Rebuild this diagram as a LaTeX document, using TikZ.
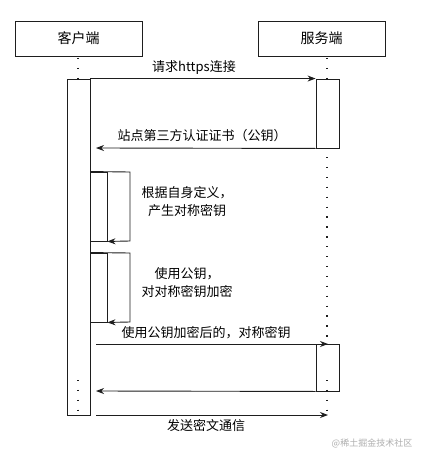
\documentclass[tikz,border=0pt]{standalone}
\usepackage{fontspec}
\setmainfont{Noto Sans CJK SC}
\usetikzlibrary{arrows.meta}
\definecolor{linegray}{RGB}{30,30,30}
\definecolor{wmgray}{RGB}{175,175,175}
\tikzset{
  head/.style={draw=linegray, line width=0.9pt, minimum width=127pt, minimum height=35pt, inner sep=0pt, font=\fontsize{14}{16}\selectfont},
  actbar/.style={draw=linegray, fill=white, line width=0.9pt, minimum width=23pt, inner sep=0pt},
  nestbar/.style={draw=linegray, fill=white, line width=0.9pt, minimum width=17pt, inner sep=0pt},
  lifeline/.style={draw=linegray, line width=1.3pt, dash pattern=on 1.3pt off 8.6pt},
  msg/.style={draw=linegray, line width=0.9pt, -{Stealth[length=8pt,width=6pt]}},
  lbl/.style={font=\fontsize{13}{15}\selectfont, inner sep=0pt},
  lbltwo/.style={font=\fontsize{13}{18}\selectfont, inner sep=0pt, align=center},
}
\begin{document}
\begin{tikzpicture}[x=1pt,y=-1pt]
\useasboundingbox[fill=white] (0,0) rectangle (424,460);
% headers
\node[head] (client) at (78.5,38.5) {客户端};
\node[head] (server) at (321.5,38.5) {服务端};
% lifelines
\coordinate (cl0) at (78,58);
\coordinate (cl1) at (78,79);
\coordinate (sl0) at (327,58);
\coordinate (sl1) at (327,79);
\coordinate (sl2) at (327,157);
\coordinate (sl3) at (327,340);
\draw[lifeline] (cl0) -- (cl1);
\draw[lifeline] (sl0) -- (sl1);
\draw[lifeline] (sl2) -- (sl3);
% activations
\node[actbar, minimum height=336pt] (ca) at (78.5,247) {};
\node[actbar, minimum height=69pt] (sa1) at (327.5,113.5) {};
\node[actbar, minimum height=47pt] (sa2) at (327.5,367.5) {};
\node[nestbar, minimum height=69pt] (n1) at (98.5,206.5) {};
\node[nestbar, minimum height=69pt] (n2) at (98.5,287.5) {};
% dots inside lower bars
\coordinate (cl2) at (78,380);
\coordinate (cl3) at (78,412);
\coordinate (sl4) at (327,380);
\coordinate (sl5) at (327,412);
\draw[lifeline] (cl2) -- (cl3);
\draw[lifeline] (sl4) -- (sl5);
% message 1
\draw[msg] (ca.north east) -- (sa1.north west);
\node[lbl] (m1) at (194,68) {请求https连接};
% message 2
\coordinate (m2e) at (96,148);
\draw[msg] (sa1.south west) -- (m2e);
\node[lbl] (m2) at (202,136) {站点第三方认证证书（公钥）};
% self message 1
\coordinate (s1a) at (130,172);
\coordinate (s1b) at (130,241);
\draw[msg] (ca.east |- n1.north) -- (s1a) -- (s1b) -- (n1.south east);
\node[lbltwo] (t1) at (187,202) {根据自身定义，\\产生对称密钥};
% self message 2
\coordinate (s2a) at (130,253);
\coordinate (s2b) at (130,322);
\draw[msg] (ca.east |- n2.north) -- (s2a) -- (s2b) -- (n2.south east);
\node[lbltwo] (t2) at (187,283) {使用公钥，\\对对称密钥加密};
% message 3
\coordinate (m3s) at (96,344);
\coordinate (m3e) at (328,344);
\draw[msg] (m3s) -- (m3e);
\node[lbl] (m3) at (206,333) {使用公钥加密后的，对称密钥};
% message 4
\coordinate (m4e) at (96,391);
\draw[msg] (sa2.south west) -- (m4e);
% message 5
\coordinate (m5s) at (96,415);
\coordinate (m5e) at (328,415);
\draw[msg] (m5s) -- (m5e);
\node[lbl] (m5) at (206,426) {发送密文通信};
% watermark
\node[font=\fontsize{9}{10}\selectfont, text=wmgray, inner sep=0pt] (wm) at (372,443) {@稀土掘金技术社区};
\end{tikzpicture}
\end{document}
